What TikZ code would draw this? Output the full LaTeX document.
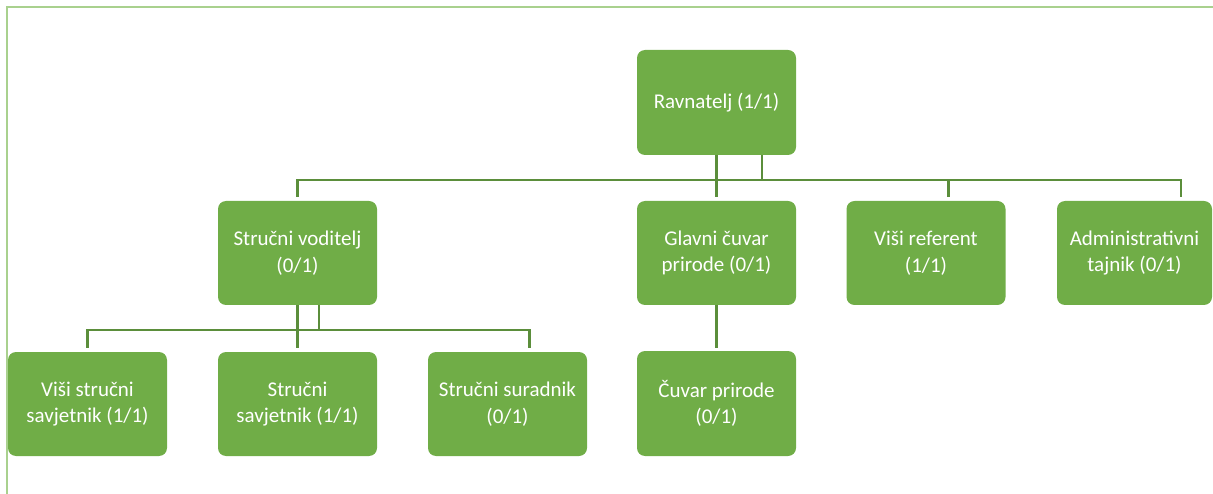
\documentclass[tikz,border=0pt]{standalone}
\usepackage{fontspec}
\setmainfont{Carlito}
\definecolor{boxgreen}{HTML}{70AD47}
\definecolor{linegreen}{HTML}{5B8E3B}
\definecolor{framegreen}{HTML}{A9D18E}
\tikzset{
  orgbox/.style={rectangle, rounded corners=8pt, fill=boxgreen, text=white,
    minimum width=159pt, minimum height=105pt, inner sep=0pt, align=center,
    font=\fontsize{21}{26.5}\selectfont},
  conn/.style={draw=linegreen, line width=2.5pt},
  framel/.style={draw=framegreen, line width=2pt}
}
\begin{document}
\begin{tikzpicture}[x=1pt,y=-1pt]
\useasboundingbox (0,0) rectangle (1213,494);
\draw[framel] (7,494) -- (7,7.5) -- (1213,7.5);

\node[orgbox] (rav) at (716.5,102.5) {Ravnatelj (1/1)};
\node[orgbox, minimum height=104pt] (svod) at (297.5,253) {Stručni voditelj\\(0/1)};
\node[orgbox, minimum height=104pt] (glav) at (716.5,253) {Glavni čuvar\\prirode (0/1)};
\node[orgbox, minimum height=104pt] (vref) at (926,253) {Viši referent\\(1/1)};
\node[orgbox, minimum height=104pt, minimum width=155pt] (adm) at (1134.5,253) {Administrativni\\tajnik (0/1)};
\node[orgbox, minimum height=104pt] (vss) at (87.5,404) {Viši stručni\\savjetnik (1/1)};
\node[orgbox, minimum height=104pt] (ss) at (297.5,404) {Stručni\\savjetnik (1/1)};
\node[orgbox, minimum height=104pt] (ssur) at (507.5,404) {Stručni suradnik\\(0/1)};
\node[orgbox] (cuv) at (716.5,403.5) {Čuvar prirode\\(0/1)};

% level 1 -> level 2
\draw[conn] ([xshift=45.5pt]rav.south) -- ([xshift=45.5pt,yshift=-25pt]rav.south);
\draw[conn] (rav.south) -- ([yshift=4pt]glav.north);
\draw[conn] ([yshift=4pt]svod.north) |- ([xshift=46.5pt,yshift=21pt]adm.north) -- ([xshift=46.5pt,yshift=4pt]adm.north);
\draw[conn] ([xshift=22.5pt,yshift=21pt]vref.north) -- ([xshift=22.5pt,yshift=4pt]vref.north);

% Strucni voditelj -> level 3
\draw[conn] (svod.south) -- ([yshift=4pt]ss.north);
\draw[conn] ([xshift=21.5pt]svod.south) -- ([xshift=21.5pt,yshift=-25pt]svod.south);
\draw[conn] ([yshift=4pt]vss.north) |- ([xshift=22pt,yshift=22pt]ssur.north) -- ([xshift=22pt,yshift=4pt]ssur.north);

% Glavni cuvar -> Cuvar prirode
\draw[conn] (glav.south) -- ([yshift=3pt]cuv.north);
\end{tikzpicture}
\end{document}
